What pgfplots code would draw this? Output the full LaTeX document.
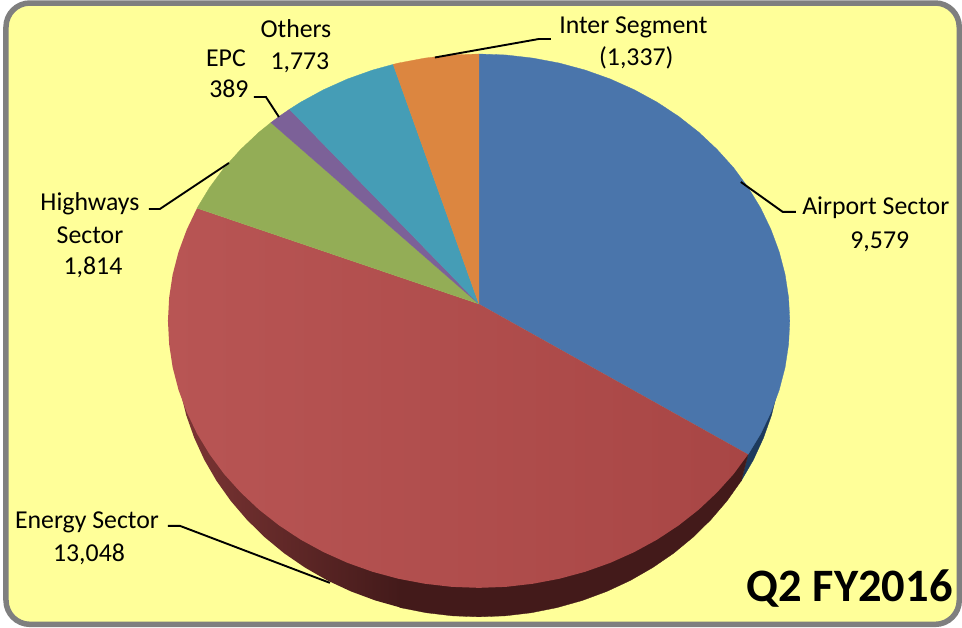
\documentclass[border=0pt]{standalone}
\usepackage{pgfplots}
\pgfplotsset{compat=1.18}
\usepackage{fontspec}
\setmainfont{Carlito}
\definecolor{bgy}{HTML}{FFFF99}
\definecolor{bord}{HTML}{7F7F7F}
\definecolor{cblue}{HTML}{4A75AB}
\definecolor{credl}{HTML}{B85554}
\definecolor{credr}{HTML}{A84645}
\definecolor{cgreen}{HTML}{93AD56}
\definecolor{cpurple}{HTML}{7C6198}
\definecolor{cteal}{HTML}{459DB6}
\definecolor{corange}{HTML}{DC8640}
\definecolor{wallred}{HTML}{431A1A}
\definecolor{wallredl}{HTML}{7C3534}
\definecolor{wallblue}{HTML}{1D3A5C}
\begin{document}
\begin{tikzpicture}
\begin{axis}[
  scale only axis, width=962pt, height=627pt,
  xmin=0, xmax=962, ymin=0, ymax=627, y dir=reverse,
  axis lines=none, clip=false,
]
\path (axis cs:0,0) rectangle (axis cs:962,627);
\draw[draw=bord, line width=5.5pt, fill=bgy, rounded corners=24pt] (axis cs:6,3) rectangle (axis cs:959.5,624.5);

% side wall, blue
\addplot[draw=wallblue, fill=wallblue, line width=0.3pt] coordinates {
 (748.3,454.5) (741.4,481) (753.6,460) (763.7,438) (771.7,415.4) (777.4,392.2) (770,390) (748.3,454.5)};
% side wall, red: dark part
\addplot[draw=wallred, fill=wallred, line width=0.3pt] coordinates {
 (748.3,454.5) (741.4,481) (727.2,501) (711.1,519.8) (693.3,537.3) (673.8,553.4) (652.8,567.8) (630.5,580.6)
 (607.1,591.5) (582.6,600.6) (557.4,607.7) (531.6,612.9) (505.4,616) (479,617) (452.6,616) (426.4,612.9)
 (400,607.7) (400,540) (748.3,454.5)};
% side wall, red: lit part
\addplot[draw=none, left color=wallredl, right color=wallred] coordinates {
 (400.6,607.7) (375.4,600.6) (350.9,591.5) (327.5,580.6) (305.2,567.8) (284.2,553.4) (264.7,537.3) (246.9,519.8)
 (230.8,501) (216.6,481) (204.4,460) (194.3,438) (186.3,415.4) (180.6,392.2) (190,390) (401,540) (401,607.7)};

% Airport Sector 9,579
\addplot[draw=cblue, fill=cblue, line width=0.3pt] coordinates {
 (479,304) (479,54) (506.1,55) (533,58.1) (559.5,63.1) (585.4,70.1) (610.4,79) (634.5,89.8) (657.4,102.3)
 (678.9,116.5) (698.9,132.2) (717.2,149.4) (733.8,167.8) (748.3,187.5) (760.9,208.2) (771.2,229.7) (779.4,251.9)
 (785.3,274.6) (788.8,297.7) (790,321) (788.8,344.3) (785.3,367.4) (779.4,390.1) (771.2,412.3) (760.9,433.8)
 (748.3,454.5) (479,304)};
% Energy Sector 13,048
\addplot[draw=none, left color=credl, right color=credr] coordinates {
 (479,304) (748.3,454.5) (733.8,474.2) (717.2,492.6) (698.9,509.8) (678.9,525.5) (657.4,539.7) (634.5,552.2)
 (610.4,563) (585.4,571.9) (559.5,578.9) (533,583.9) (506.1,587) (479,588) (451.9,587) (425,583.9) (398.5,578.9)
 (372.6,571.9) (347.6,563) (323.5,552.2) (300.6,539.7) (279.1,525.5) (259.1,509.8) (240.8,492.6) (224.2,474.2)
 (209.7,454.5) (197.1,433.8) (186.8,412.3) (178.6,390.1) (172.7,367.4) (169.2,344.3) (168,321) (169.2,297.7)
 (172.7,274.6) (178.6,251.9) (186.8,229.7) (197.1,208.2) (479,304)};
% Highways Sector 1,814
\addplot[draw=cgreen, fill=cgreen, line width=0.3pt] coordinates {
 (479,304) (197.1,208.2) (209.7,187.5) (224.2,167.8) (240.8,149.4) (259.1,132.2) (271,122.6) (479,304)};
% EPC 389
\addplot[draw=cpurple, fill=cpurple, line width=0.3pt] coordinates {
 (479,304) (271,122.6) (279.1,116.5) (289.6,109.3) (479,304)};
% Others 1,773
\addplot[draw=cteal, fill=cteal, line width=0.3pt] coordinates {
 (479,304) (289.6,109.3) (300.6,102.3) (323.5,89.8) (347.6,79) (372.6,70.1) (393.3,64.4) (479,304)};
% Inter Segment (1,337)
\addplot[draw=corange, fill=corange, line width=0.3pt] coordinates {
 (479,304) (393.3,64.4) (398.5,63.1) (425,58.1) (451.9,55) (479,54) (479,304)};

% leader lines
\addplot[black, line width=1.9pt] coordinates {(435,57.5) (539,39) (551,39)};
\addplot[black, line width=1.9pt] coordinates {(254,97) (266,97) (279,117)};
\addplot[black, line width=1.9pt] coordinates {(149,209) (160,209) (229,163)};
\addplot[black, line width=1.9pt] coordinates {(168,526) (180,526) (330,583)};
\addplot[black, line width=1.9pt] coordinates {(741,182) (783,212) (796,212)};

\tikzset{lab/.style={anchor=base, inner sep=0pt, font=\fontsize{25.8}{30}\selectfont, text=black}}
\node[lab] at (axis cs:633.5,34) {Inter Segment};
\node[lab] at (axis cs:636.5,66) {(1,337)};
\node[lab] at (axis cs:296,38) {Others};
\node[lab] at (axis cs:300,70) {1,773};
\node[lab] at (axis cs:226,67) {EPC};
\node[lab] at (axis cs:229,98) {389};
\node[lab] at (axis cs:90,211) {Highways};
\node[lab] at (axis cs:90,244) {Sector};
\node[lab] at (axis cs:93,275) {1,814};
\node[lab] at (axis cs:87,529) {Energy Sector};
\node[lab] at (axis cs:89,562) {13,048};
\node[lab] at (axis cs:876,215) {Airport Sector};
\node[lab] at (axis cs:880,249) {9,579};
\node[anchor=base, inner sep=0pt, font=\fontsize{46.5}{54}\selectfont\bfseries] at (axis cs:850,602) {Q2 FY2016};
\end{axis}
\end{tikzpicture}
\end{document}
